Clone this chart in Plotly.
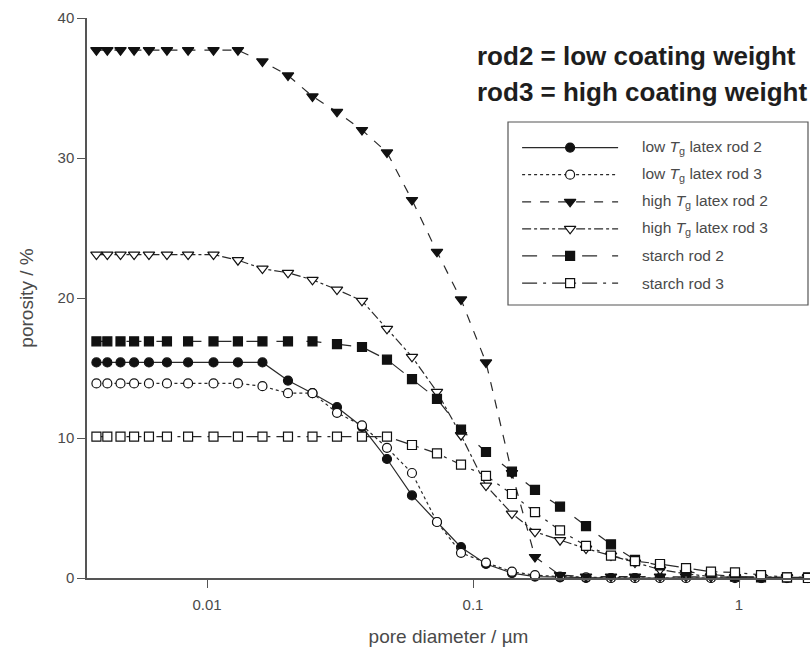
import numpy as np
import plotly.graph_objects as go

# Pore diameter grid (µm), shared by all six intrusion curves
diameter = [0.00384, 0.00422, 0.00473, 0.00532, 0.00605, 0.00707, 0.00849,
            0.01058, 0.01307, 0.01616, 0.02016, 0.02492, 0.03081, 0.03825,
            0.04749, 0.05897, 0.07321, 0.09014, 0.1119, 0.1401, 0.1710,
            0.2124, 0.2660, 0.3302, 0.4064, 0.5047, 0.6322, 0.7847, 0.9660,
            1.210, 1.515, 1.817]

# Cumulative porosity (%) for each coating
low_tg_rod2 = [15.4, 15.4, 15.4, 15.4, 15.4, 15.4, 15.4, 15.4, 15.4, 15.4,
               14.1, 13.2, 12.2, 10.8, 8.5, 5.9, 4.0, 2.2, 1.0, 0.35, 0.1,
               0.05, 0.0, 0.0, 0.0, 0.0, 0.0, 0.0, 0.0, 0.0, 0.0, 0.0]
low_tg_rod3 = [13.9, 13.9, 13.9, 13.9, 13.9, 13.9, 13.9, 13.9, 13.9, 13.7,
               13.2, 13.2, 11.8, 10.9, 9.3, 7.5, 4.0, 1.8, 1.1, 0.45, 0.2,
               0.1, 0.05, 0.0, 0.0, 0.0, 0.0, 0.0, 0.0, 0.0, 0.0, 0.0]
high_tg_rod2 = [37.7, 37.7, 37.7, 37.7, 37.7, 37.7, 37.7, 37.7, 37.7, 36.9,
                35.9, 34.4, 33.3, 32.0, 30.4, 27.0, 23.3, 19.9, 15.4, 7.5,
                1.5, 0.2, 0.1, 0.1, 0.1, 0.1, 0.1, 0.1, 0.05, 0.05, 0.05,
                0.05]
high_tg_rod3 = [23.1, 23.1, 23.1, 23.1, 23.1, 23.1, 23.1, 23.1, 22.7, 22.1,
                21.8, 21.3, 20.6, 19.8, 17.8, 15.8, 13.3, 10.2, 6.6, 4.6,
                3.3, 2.7, 2.1, 1.6, 1.1, 0.6, 0.3, 0.1, 0.05, 0.05, 0.05,
                0.05]
starch_rod2 = [16.9, 16.9, 16.9, 16.9, 16.9, 16.9, 16.9, 16.9, 16.9, 16.9,
               16.9, 16.9, 16.7, 16.5, 15.6, 14.2, 12.8, 10.6, 9.0, 7.6, 6.3,
               5.1, 3.7, 2.4, 1.3, 0.9, 0.45, 0.25, 0.1, 0.05, 0.05, 0.05]
starch_rod3 = [10.1, 10.1, 10.1, 10.1, 10.1, 10.1, 10.1, 10.1, 10.1, 10.1,
               10.1, 10.1, 10.1, 10.1, 10.1, 9.5, 8.9, 8.1, 7.3, 6.0, 4.7,
               3.4, 2.3, 1.6, 1.2, 1.0, 0.7, 0.45, 0.4, 0.2, 0.05, 0.0]

series_names = ["low <i>T</i><sub>g</sub> latex rod 2",
                "low <i>T</i><sub>g</sub> latex rod 3",
                "high <i>T</i><sub>g</sub> latex rod 2",
                "high <i>T</i><sub>g</sub> latex rod 3",
                "starch rod 2",
                "starch rod 3"]
series_values = [low_tg_rod2, low_tg_rod3, high_tg_rod2, high_tg_rod3,
                 starch_rod2, starch_rod3]

x_tick_vals = [0.01, 0.1, 1]
x_tick_text = ["0.01", "0.1", "1"]
y_tick_vals = [0, 10, 20, 30, 40]

# Marker / line styling per series
styles = [
    dict(symbol="circle", fill="#111111", dash="solid", size=9),
    dict(symbol="circle", fill="white", dash="dot", size=9),
    dict(symbol="triangle-down", fill="#111111", dash="dash", size=10),
    dict(symbol="triangle-down", fill="white", dash="dashdot", size=10),
    dict(symbol="square", fill="#111111", dash="longdash", size=9),
    dict(symbol="square", fill="white", dash="longdashdot", size=9),
]

W, H = 810, 661
L, R, T, B = 87, 0, 18, 83
plot_w = W - L - R
plot_h = H - T - B

FONT = "Liberation Sans, Arial, sans-serif"
TEXT_COLOR = "#4a4a4a"
LINE_COLOR = "#2a2a2a"

fig = go.Figure()

for name, vals, st in zip(series_names, series_values, styles):
    fig.add_trace(go.Scatter(
        x=diameter, y=vals, mode="lines+markers", name=name,
        line=dict(color=LINE_COLOR, width=1.2, dash=st["dash"]),
        marker=dict(symbol=st["symbol"], size=st["size"], color=st["fill"],
                    line=dict(color="#111111", width=1.2)),
        cliponaxis=False, showlegend=False,
    ))

# Key drawn in its own small coordinate frame
def px_to_paper_x(px):
    return (px - L) / plot_w

def px_to_paper_y(py):
    return (H - B - py) / plot_h

box_left, box_right, box_top, box_bottom = 508, 808, 122, 305
n = len(series_names)
row_y = np.linspace(0.86, 0.12, n)
for i, (name, st) in enumerate(zip(series_names, styles)):
    fig.add_trace(go.Scatter(
        x=[0.047, 0.207, 0.367], y=[row_y[i]] * 3, mode="lines",
        line=dict(color=LINE_COLOR, width=1.2, dash=st["dash"]),
        xaxis="x2", yaxis="y2", showlegend=False, hoverinfo="skip",
    ))
    fig.add_trace(go.Scatter(
        x=[0.207], y=[row_y[i]], mode="markers",
        marker=dict(symbol=st["symbol"], size=st["size"], color=st["fill"],
                    line=dict(color="#111111", width=1.2)),
        xaxis="x2", yaxis="y2", showlegend=False, hoverinfo="skip",
    ))
    fig.add_annotation(
        x=0.44, y=row_y[i], xref="x2", yref="y2", text=name,
        showarrow=False, xanchor="left", yanchor="middle",
        font=dict(family=FONT, size=15.5, color=TEXT_COLOR),
    )

fig.add_shape(type="rect", xref="paper", yref="paper",
              x0=px_to_paper_x(box_left), x1=px_to_paper_x(box_right),
              y0=px_to_paper_y(box_bottom), y1=px_to_paper_y(box_top),
              line=dict(color="#555555", width=1.2))

for label, py in [("rod2 = low coating weight", 56),
                  ("rod3 = high coating weight", 92)]:
    fig.add_annotation(
        x=px_to_paper_x(475), y=px_to_paper_y(py), xref="paper", yref="paper",
        text=f"<b>{label}</b>", showarrow=False, xanchor="left",
        yanchor="middle",
        font=dict(family="Liberation Sans, Arial", size=26, color="#1e1e1e"),
    )

x_left = -1 + (L - 473) / 266
x_right = -1 + (W - R - 473) / 266

fig.update_layout(
    width=W, height=H,
    margin=dict(l=L, r=R, t=T, b=B, pad=0),
    paper_bgcolor="white", plot_bgcolor="white",
    font=dict(family=FONT, color=TEXT_COLOR, size=15),
    showlegend=False,
    xaxis=dict(
        type="log", range=[x_left, x_right],
        tickvals=x_tick_vals, ticktext=x_tick_text,
        ticks="outside", ticklen=8, tickwidth=1.2, tickcolor="#555555",
        showline=True, linecolor="#555555", linewidth=1.5,
        showgrid=False, zeroline=False,
        tickfont=dict(size=15, color=TEXT_COLOR), ticklabelstandoff=4,
        title=dict(text="pore diameter / µm", standoff=18,
                   font=dict(size=19, color=TEXT_COLOR)),
    ),
    yaxis=dict(
        range=[0, 40], tickvals=y_tick_vals,
        ticks="outside", ticklen=8, tickwidth=1.2, tickcolor="#555555",
        showline=True, linecolor="#555555", linewidth=1.5,
        showgrid=False, zeroline=False,
        tickfont=dict(size=15, color=TEXT_COLOR),
        title=dict(text="porosity / %", standoff=19,
                   font=dict(size=19, color=TEXT_COLOR)),
    ),
    xaxis2=dict(domain=[px_to_paper_x(box_left), px_to_paper_x(box_right)],
                range=[0, 1], visible=False, anchor="y2"),
    yaxis2=dict(domain=[px_to_paper_y(box_bottom), px_to_paper_y(box_top)],
                range=[0, 1], visible=False, anchor="x2"),
)

fig.write_html("out.html")
